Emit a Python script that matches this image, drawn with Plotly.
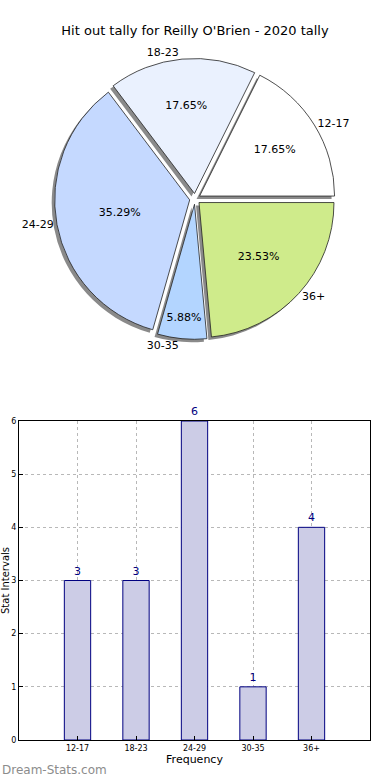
import plotly.graph_objects as go

categories = ["12-17", "18-23", "24-29", "30-35", "36+"]
counts = [3, 3, 6, 1, 4]
pie_colors = ["#ffffff", "#eaf1fe", "#c5d9ff", "#b3d5ff", "#cfeb8b"]
title_text = "Hit out tally for Reilly O'Brien - 2020 tally"

FONT = "DejaVu Sans"
pulls = [0.04] * len(categories)
# first slice starts at 3 o'clock and runs counterclockwise
rot = 90 - 360 * counts[0] / sum(counts)

pie_dom_x = [0.05, 0.95]
pie_dom_y = [0.565, 0.925]
sx, sy = 3 / 390, 3 / 780

fig = go.Figure()

fig.add_trace(go.Pie(
    labels=categories, values=counts, sort=False, direction="counterclockwise",
    rotation=rot, pull=pulls,
    marker=dict(colors=["#8a8a8a"] * 5, line=dict(width=0)),
    textinfo="none", hoverinfo="skip", showlegend=False,
    domain=dict(x=[pie_dom_x[0] - sx, pie_dom_x[1] - sx], y=[pie_dom_y[0] - sy, pie_dom_y[1] - sy]),
))
fig.add_trace(go.Pie(
    labels=categories, values=counts, sort=False, direction="counterclockwise",
    rotation=rot, pull=pulls,
    marker=dict(colors=pie_colors, line=dict(color="#222222", width=0.8)),
    textinfo="label", textposition="outside",
    outsidetextfont=dict(family=FONT, size=11, color="#000000"),
    showlegend=False, domain=dict(x=pie_dom_x, y=pie_dom_y),
))
fig.add_trace(go.Pie(
    labels=categories, values=counts, sort=False, direction="counterclockwise",
    rotation=rot, pull=pulls,
    marker=dict(colors=["rgba(0,0,0,0)"] * 5, line=dict(width=0)),
    texttemplate="%{percent:.2%}", textposition="inside", insidetextorientation="horizontal",
    insidetextfont=dict(family=FONT, size=11, color="#000000"),
    hoverinfo="skip", showlegend=False, domain=dict(x=pie_dom_x, y=pie_dom_y),
))

fig.add_trace(go.Bar(
    x=categories, y=counts, width=0.45,
    marker=dict(color="#cccce6", line=dict(color="#000080", width=1)),
    text=[str(c) for c in counts], textposition="outside", cliponaxis=False,
    textfont=dict(family=FONT, size=11, color="#000080"),
    showlegend=False, xaxis="x", yaxis="y",
))

fig.update_layout(
    width=390, height=780, autosize=False, showlegend=False,
    margin=dict(l=0, r=0, t=0, b=0, pad=0, autoexpand=False),
    paper_bgcolor="white", plot_bgcolor="white",
    font=dict(family=FONT, color="#000000"),
    title=dict(text=title_text, x=0.5, xanchor="center", y=1 - 30 / 780, yanchor="middle",
               yref="container", automargin=False, font=dict(family=FONT, size=13, color="#000000")),
    xaxis=dict(domain=[19 / 390, 370 / 390], range=[-1, 5], type="category",
               showgrid=True, gridcolor="#b8b8b8", griddash="dot", gridwidth=1,
               showline=True, linecolor="black", mirror=True, linewidth=1,
               ticks="inside", ticklen=4, tickcolor="black", automargin=False,
               tickfont=dict(family=FONT, size=8), layer="above traces",
               title=dict(text="Frequency", font=dict(family=FONT, size=11), standoff=2),
               anchor="y", zeroline=False),
    yaxis=dict(domain=[1 - 740 / 780, 1 - 421 / 780], range=[0, 6], dtick=1,
               showgrid=True, gridcolor="#b8b8b8", griddash="dot", gridwidth=1,
               showline=True, linecolor="black", mirror=True, linewidth=1,
               ticks="inside", ticklen=4, tickcolor="black", automargin=False,
               tickfont=dict(family=FONT, size=8), layer="above traces",
               title=dict(text="Stat Intervals", font=dict(family=FONT, size=10), standoff=0),
               anchor="x", zeroline=False),
    annotations=[dict(text="Dream-Stats.com", x=0, y=1 - 770 / 780, xref="paper", yref="paper",
                      xanchor="left", yanchor="middle", showarrow=False,
                      font=dict(family=FONT, size=12, color="#8c8c8c"))],
)

# remove the browser's default 8px body margin so the figure sits at the page origin
fig.write_html("out.html", config={"displayModeBar": False},
               post_script="document.body.style.margin='0';")
